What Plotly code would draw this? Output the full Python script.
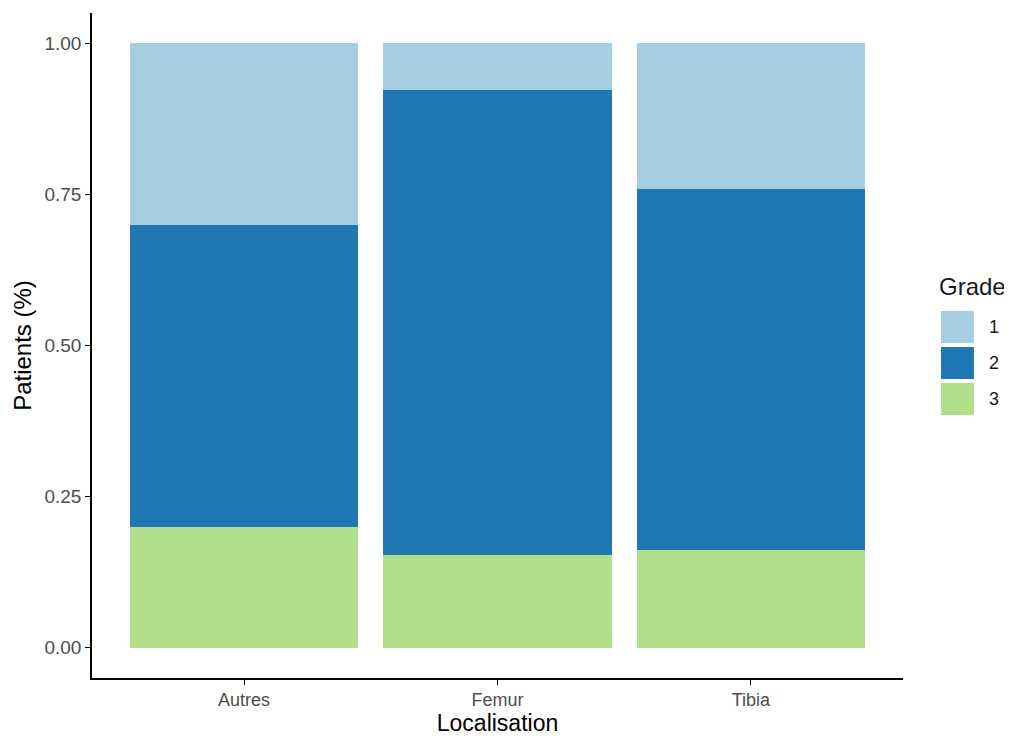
import plotly.graph_objects as go

categories = ["Autres", "Femur", "Tibia"]
grades = ["1", "2", "3"]
grade1 = [0.30, 0.077, 0.241]
grade2 = [0.50, 0.769, 0.597]
grade3 = [0.20, 0.154, 0.162]
colors = ["#A6CEE3", "#1F78B4", "#B2DF8A"]
y_ticks = [0.0, 0.25, 0.5, 0.75, 1.0]
y_tick_labels = ["0.00", "0.25", "0.50", "0.75", "1.00"]

values = {"1": grade1, "2": grade2, "3": grade3}

fig = go.Figure()
for g, c in zip(reversed(grades), reversed(colors)):
    fig.add_trace(go.Bar(x=categories, y=values[g], name=g, marker=dict(color=c, line=dict(width=0)),
                         width=0.9, showlegend=False))

# custom ggplot-like legend (paper coordinates of plot area)
key_tops = [0.5519, 0.4977, 0.4436]
key_h = 0.0481
for top, g, c in zip(key_tops, grades, colors):
    fig.add_shape(type="rect", xref="paper", yref="paper",
                  x0=1.0469, x1=1.0875, y0=top - key_h, y1=top,
                  fillcolor=c, line=dict(width=0))
    fig.add_annotation(xref="paper", yref="paper", x=1.104, y=top - key_h / 2, text=g,
                       showarrow=False, xanchor="left", yanchor="middle",
                       font=dict(size=18, color="#1a1a1a", family="Liberation Sans"))
fig.add_annotation(xref="paper", yref="paper", x=1.042, y=0.588, text="Grade",
                   showarrow=False, xanchor="left", yanchor="middle",
                   font=dict(size=24, color="#1a1a1a", family="Liberation Sans"))

fig.update_layout(
    barmode="stack",
    width=1004, height=728,
    margin=dict(l=84, r=109, t=5, b=58),
    plot_bgcolor="white", paper_bgcolor="white",
    font=dict(family="Liberation Sans"),
    bargap=0.1,
)
fig.update_xaxes(
    range=[-0.6, 2.6], showline=True, linecolor="black", linewidth=1.6,
    ticks="outside", ticklen=5, tickcolor="black", tickwidth=1.2,
    tickfont=dict(size=18, color="#4D4D4D"),
    title=dict(text="Localisation", font=dict(size=23, color="black"), standoff=4),
    showgrid=False, zeroline=False,
)
fig.update_yaxes(
    range=[-0.05, 1.05], showline=True, linecolor="black", linewidth=1.6,
    ticks="outside", ticklen=5, tickcolor="black", tickwidth=1.2,
    tickvals=y_ticks, ticktext=y_tick_labels,
    tickfont=dict(size=19, color="#4D4D4D"),
    title=dict(text="Patients (%)", font=dict(size=24, color="black"), standoff=6),
    showgrid=False, zeroline=False,
)

fig.write_html("out.html")
